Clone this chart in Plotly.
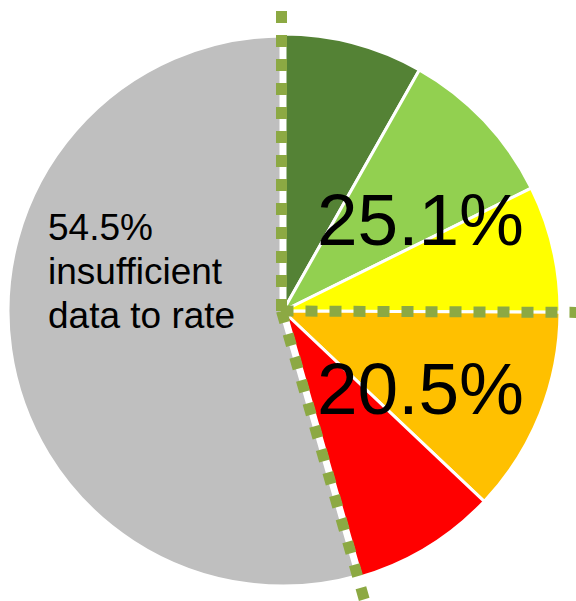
import math
import plotly.graph_objects as go

# ---- data ----
categories = ["Rating 1", "Rating 2", "Rating 3", "Rating 4", "Rating 5", "Insufficient data"]
values = [8.2, 9.5, 7.4, 12.0, 8.5, 54.5]
colors = ["#548235", "#92D050", "#FFFF00", "#FFC000", "#FF0000", "#BFBFBF"]
group_upper = 25.1
group_lower = 20.5
insufficient = 54.5
left_lines = ["%.1f%%" % insufficient, "insufficient", "data to rate"]

W, H = 576, 601
# layout geometry (pixels)
CX, CY, R = 283, 311, 277
OX, OY = 281.5, 311          # origin of dotted guide lines
LINE_LEN = 303

dom_x = [(CX - R) / W, (CX + R) / W]
dom_y = [1 - (CY + R) / H, 1 - (CY - R) / H]

fig = go.Figure(go.Pie(
    labels=categories,
    values=values,
    sort=False,
    direction="clockwise",
    rotation=0,
    marker=dict(colors=colors, line=dict(color="white", width=[3, 3, 3, 3, 3, 7])),
    textinfo="none",
    hoverinfo="label+percent",
    showlegend=False,
    domain=dict(x=dom_x, y=dom_y),
))

total = sum(values)
bounds = [0, sum(values[:3]) / total, sum(values[:5]) / total]
shapes = []
for f in bounds:
    th = 2 * math.pi * f
    x1 = OX + LINE_LEN * math.sin(th)
    y1 = OY - LINE_LEN * math.cos(th)
    shapes.append(dict(
        type="line", xref="paper", yref="paper",
        x0=OX / W, y0=1 - OY / H, x1=x1 / W, y1=1 - y1 / H,
        line=dict(color="#8CA943", width=11, dash="12px,12px"),
    ))

font_big = dict(family="Liberation Sans, Arial, sans-serif", size=73, color="black")
font_small = dict(family="Liberation Sans, Arial, sans-serif", size=37, color="black")

annotations = [
    dict(text="%.1f%%" % group_upper, x=420 / W, y=1 - 219 / H, xref="paper", yref="paper",
         xanchor="center", yanchor="middle", showarrow=False, font=font_big),
    dict(text="%.1f%%" % group_lower, x=420 / W, y=1 - 388 / H, xref="paper", yref="paper",
         xanchor="center", yanchor="middle", showarrow=False, font=font_big),
]
for i, t in enumerate(left_lines):
    annotations.append(dict(text=t, x=46 / W, y=1 - (227 + 44 * i) / H, xref="paper", yref="paper",
                            xanchor="left", yanchor="middle", showarrow=False, font=font_small))

fig.update_layout(
    width=W, height=H,
    margin=dict(l=0, r=0, t=0, b=0),
    paper_bgcolor="white", plot_bgcolor="white",
    shapes=shapes, annotations=annotations,
)

fig.write_html(
    "out.html",
    config={"displayModeBar": False},
    post_script="document.body.style.margin='0';document.body.style.overflow='hidden';",
)
